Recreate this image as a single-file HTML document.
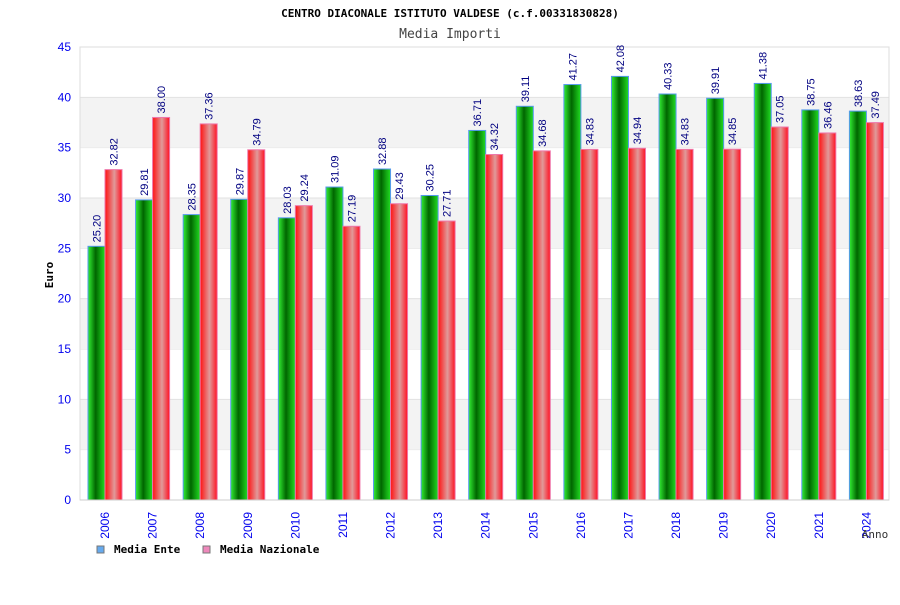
<!DOCTYPE html>
<html><head><meta charset="utf-8"><style>
body{margin:0;background:#fff}
svg text{font-family:"DejaVu Sans Mono","Liberation Mono",monospace}
svg text.s{font-family:"Liberation Sans","DejaVu Sans",sans-serif}
</style></head><body>
<svg id="c" width="900" height="600" xmlns="http://www.w3.org/2000/svg">
<defs>
<linearGradient id="gg" x1="0" x2="1"><stop offset="0" stop-color="#33ee33"/><stop offset="0.45" stop-color="#006600"/><stop offset="1" stop-color="#22dd22"/></linearGradient>
<linearGradient id="rg" x1="0" x2="1"><stop offset="0" stop-color="#ff1111"/><stop offset="0.55" stop-color="#e09a9a"/><stop offset="1" stop-color="#ff1122"/></linearGradient>
</defs>
<text x="450" y="17" text-anchor="middle" font-size="11" font-weight="bold">CENTRO DIACONALE ISTITUTO VALDESE (c.f.00331830828)</text>
<text x="450" y="38" text-anchor="middle" font-size="13" fill="#444">Media Importi</text>
<g id="plot"></g>
<text transform="translate(53,275) rotate(-90)" text-anchor="middle" font-size="11" font-weight="bold">Euro</text>
<text x="875" y="538" text-anchor="middle" font-size="11" fill="#333">Anno</text>
<g>
<rect x="97" y="546" width="7" height="7" fill="#66aaee" stroke="#777"/>
<text x="114" y="553" font-size="11" font-weight="bold">Media Ente</text>
<rect x="203" y="546" width="7" height="7" fill="#ee88bb" stroke="#777"/>
<text x="220" y="553" font-size="11" font-weight="bold">Media Nazionale</text>
</g>
</svg>
<script>
const categories=["2006","2007","2008","2009","2010","2011","2012","2013","2014","2015","2016","2017","2018","2019","2020","2021","2024"];
const enteValues=[25.20,29.81,28.35,29.87,28.03,31.09,32.88,30.25,36.71,39.11,41.27,42.08,40.33,39.91,41.38,38.75,38.63];
const nazValues=[32.82,38.00,37.36,34.79,29.24,27.19,29.43,27.71,34.32,34.68,34.83,34.94,34.83,34.85,37.05,36.46,37.49];
const yTicks=[0,5,10,15,20,25,30,35,40,45];
const NS="http://www.w3.org/2000/svg";
const L=80,R=889,T=47,B=500,YMAX=45;
const y=v=>B-(v/YMAX)*(B-T);
const gw=(R-L)/categories.length;
const x=i=>L+i*gw;
const g=document.getElementById('plot');
function mk(t,a){const e=document.createElementNS(NS,t);for(const k in a)e.setAttribute(k,a[k]);g.appendChild(e);return e;}
for(let i=0;i<yTicks.length-1;i++){
  const lo=yTicks[i],hi=yTicks[i+1];
  if(i%2===1){const r=mk('rect',{x:L,y:y(hi),width:R-L,height:y(lo)-y(hi),fill:'#f3f3f3'});
  
  }
  const ln=mk('line',{x1:L,x2:R,y1:y(hi),y2:y(hi),stroke:'#e2e2e2'});
  
  
}
mk('rect',{x:L,y:T,width:R-L,height:B-T,fill:'none',stroke:'#dddddd'});
yTicks.forEach(v=>{const t=mk('text',{x:71,y:y(v)+4,'text-anchor':'end','font-size':12,fill:'#0000ee',class:'s'});t.textContent=v;

});
const bw=17;
categories.forEach((c,i)=>{
  const gx=x(i)+8;
  const ve=enteValues[i],vn=nazValues[i];
  const b1=mk('rect',{x:gx,y:y(ve),width:bw,height:B-y(ve),fill:'url(#gg)',stroke:'#5599ee','stroke-width':1});
  
  
  const b2=mk('rect',{x:gx+bw,y:y(vn),width:bw,height:B-y(vn),fill:'url(#rg)',stroke:'#ee77aa','stroke-width':1});
  
  
  [[ve,gx+bw/2],[vn,gx+bw*1.5]].forEach(([v,cx])=>{
    const t=mk('text',{transform:`translate(${cx+4},${y(v)-4}) rotate(-90)`,'font-size':11,fill:'#000080',class:'s'});
    t.textContent=v.toFixed(2);
    
    
  });
  const xl=mk('text',{transform:`translate(${gx+bw+4},${512}) rotate(-90)`,'text-anchor':'end','font-size':12,fill:'#0000ee',class:'s'});
  xl.textContent=c;
  
  
});
mk('line',{x1:L,x2:R,y1:B,y2:B,stroke:'#ccc'});
</script>
</body></html>
